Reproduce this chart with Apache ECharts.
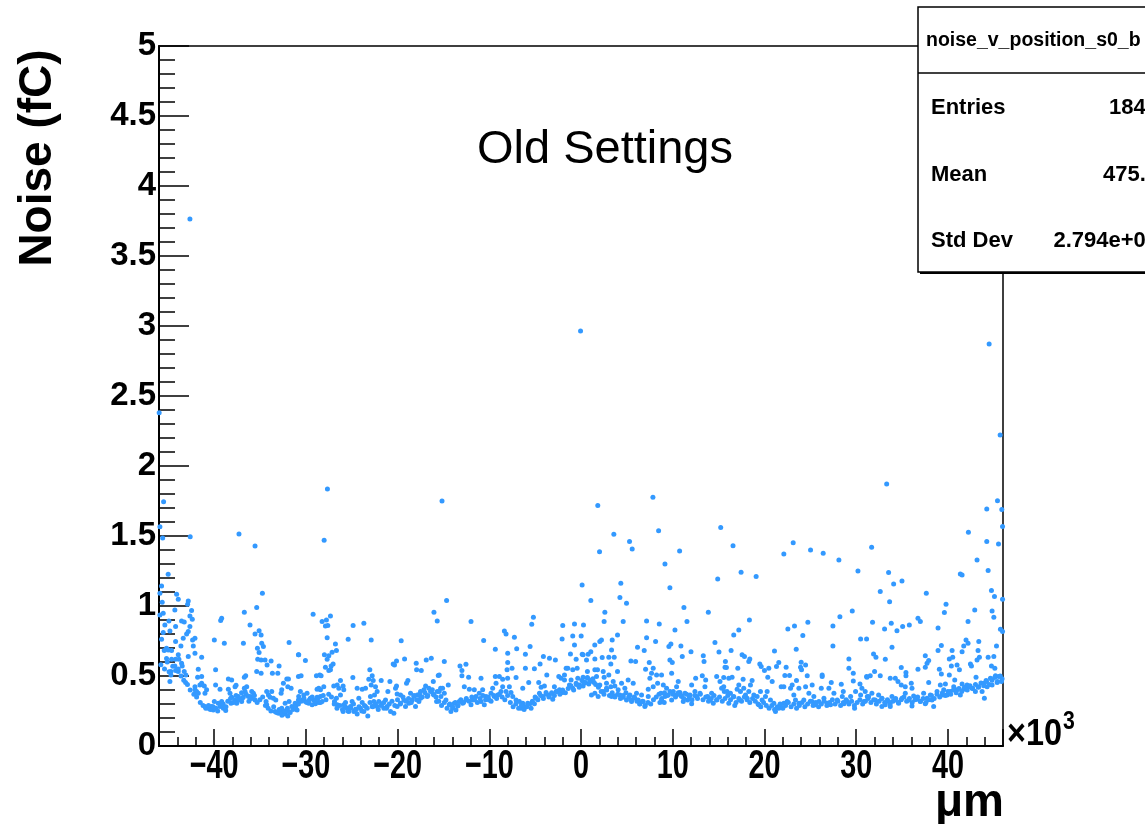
<!DOCTYPE html>
<html>
<head>
<meta charset="utf-8">
<script src="https://cdn.jsdelivr.net/npm/echarts@6/dist/echarts.min.js"></script>
<style>
  html, body { margin: 0; padding: 0; background: #fff; }
  #chart { width: 1145px; height: 824px; }
</style>
</head>
<body>
<div id="chart"></div>
<script>
// Strip noise (fC) against strip position (units of 10^3 um)
const stripsFarLeft = [[-45.0,1.227],[-45.72,1.143],[-45.9,1.091],[-45.65,1.027],[-44.08,1.084],[-43.9,1.048],[-42.81,1.036],[-42.88,1.012],[-44.27,0.972],[-42.45,0.967],[-45.54,0.948],[-45.9,0.936],[-42.63,0.929],[-42.37,0.905],[-44.92,0.893],[-43.54,0.893],[-43.25,0.886],[-45.36,0.865],[-42.63,0.853],[-44.19,0.853],[-42.81,0.817],[-44.81,0.822],[-45.54,0.81],[-42.99,0.8],[-42.08,0.77],[-43.36,0.77],[-45.72,0.762],[-42.34,0.758],[-44.19,0.746],[-39.97,0.758],[-38.88,0.734],[-43.61,0.715],[-42.26,0.715],[-36.8,0.734],[-45.18,0.698],[-45.0,0.686],[-44.63,0.682],[-45.43,0.682],[-42.08,0.663],[-43.9,0.651],[-42.81,0.639],[-41.35,0.634],[-45.18,0.625],[-44.63,0.62],[-43.83,0.62],[-43.54,0.591],[-44.27,0.572],[-43.47,0.572],[-41.72,0.548],[-39.83,0.544],[-44.7,0.532],[-44.19,0.539],[-43.9,0.532],[-43.25,0.532],[-43.07,0.508],[-44.7,0.508],[-44.81,0.46],[-43.1,0.453],[-41.79,0.491],[-41.35,0.496],[-38.44,0.479],[-38.08,0.472],[-36.7,0.491],[-36.55,0.501],[-42.08,0.424],[-41.54,0.436],[-41.35,0.448],[-41.06,0.429],[-41.9,0.389],[-40.81,0.401],[-42.08,0.401],[-41.72,0.377],[-40.99,0.377],[-39.83,0.436],[-39.35,0.405],[-38.44,0.405],[-37.71,0.424],[-37.6,0.434],[-36.7,0.413],[-36.44,0.424],[-36.62,0.389],[-35.89,0.389],[-36.08,0.353],[-35.53,0.329],[-40.99,0.282],[-40.63,0.27],[-40.26,0.282],[-39.97,0.317],[-39.54,0.305],[-39.35,0.282],[-38.99,0.27],[-38.73,0.253],[-39.17,0.317],[-40.08,0.258],[-38.26,0.377],[-38.08,0.348],[-37.71,0.329],[-37.35,0.353],[-36.91,0.341],[-37.53,0.305],[-36.99,0.317],[-38.15,0.305],[-36.26,0.353],[-35.71,0.377],[-39.17,0.912],[-39.28,0.896],[-36.7,0.955],[-35.35,0.989],[-34.73,1.091],[-36.08,0.865],[-35.53,0.8],[-35.09,0.824],[-34.87,0.793],[-34.8,0.734],[-35.27,0.698],[-35.09,0.667],[-34.62,0.71],[-35.24,0.62],[-34.87,0.615],[-34.44,0.615],[-35.35,0.532],[-34.87,0.52],[-33.78,0.608],[-34.22,0.579],[-32.91,0.572],[-33.64,0.52],[-33.05,0.52],[-31.82,0.739],[-30.8,0.651],[-34.26,0.389],[-34.07,0.365],[-33.71,0.389],[-33.89,0.348],[-33.53,0.341],[-34.33,0.317],[-34.26,0.294],[-33.27,0.329],[-32.69,0.377],[-32.44,0.448],[-32.62,0.401],[-32.07,0.479],[-31.89,0.479],[-31.6,0.413],[-31.96,0.424],[-33.35,0.246],[-32.98,0.234],[-32.62,0.246],[-32.25,0.229],[-31.89,0.246],[-31.52,0.282],[-31.16,0.305],[-30.8,0.329],[-31.96,0.215],[-32.62,0.27],[-32.25,0.305],[-31.82,0.317],[-30.8,0.496]];

const stripsLeft = [[-29.2,0.941],[-28.22,0.889],[-27.75,0.9],[-27.31,0.929],[-27.86,0.858],[-27.6,0.86],[-27.67,0.774],[-26.77,0.729],[-26.66,0.682],[-27.13,0.67],[-27.97,0.651],[-27.49,0.644],[-27.67,0.62],[-27.02,0.586],[-27.24,0.572],[-27.31,0.544],[-27.86,0.563],[-27.49,0.539],[-30.77,0.651],[-30.04,0.61],[-30.51,0.501],[-28.84,0.501],[-28.48,0.508],[-28.33,0.501],[-28.04,0.424],[-28.77,0.405],[-28.58,0.413],[-28.4,0.401],[-30.59,0.389],[-30.22,0.365],[-29.86,0.377],[-29.5,0.341],[-29.13,0.329],[-28.77,0.348],[-28.4,0.353],[-28.22,0.317],[-29.68,0.305],[-29.31,0.294],[-28.95,0.301],[-28.58,0.31],[-30.77,0.353],[-30.4,0.329],[-30.04,0.317],[-30.95,0.258],[-26.22,0.467],[-26.58,0.436],[-25.93,0.429],[-26.4,0.413],[-26.95,0.429],[-26.87,0.317],[-26.58,0.294],[-26.66,0.341],[-26.22,0.365],[-25.86,0.401],[-25.86,0.294],[-25.49,0.27],[-25.13,0.282],[-25.67,0.31],[-25.93,0.246],[-25.31,0.246],[-24.76,0.246],[-24.4,0.229],[-24.95,0.317],[-24.22,0.341],[-24.58,0.263],[-24.04,0.27],[-23.67,0.246],[-23.24,0.215],[-23.49,0.282],[-23.85,0.31],[-25.38,0.763],[-24.84,0.86],[-23.67,0.877],[-22.87,0.758],[-24.87,0.489],[-24.4,0.413],[-23.85,0.405],[-23.49,0.413],[-23.02,0.544],[-22.76,0.501],[-23.13,0.477],[-22.65,0.467],[-22.87,0.436],[-22.4,0.424],[-22.22,0.389],[-22.51,0.365],[-21.78,0.467],[-22.95,0.353],[-22.58,0.317],[-22.04,0.317],[-21.67,0.301],[-22.76,0.282],[-22.22,0.282],[-21.49,0.27],[-21.13,0.282],[-20.76,0.246],[-20.4,0.234],[-21.31,0.329],[-21.05,0.389],[-20.83,0.46],[-20.22,0.413],[-20.11,0.429],[-20.04,0.372],[-19.67,0.365],[-19.31,0.329],[-20.04,0.282],[-19.67,0.305],[-19.13,0.282],[-18.76,0.305],[-18.4,0.329],[-18.04,0.282],[-18.22,0.353],[-18.58,0.377],[-17.85,0.365],[-17.49,0.389],[-17.12,0.401],[-16.94,0.429],[-16.58,0.413],[-16.21,0.401],[-16.03,0.365],[-15.67,0.389],[-15.3,0.413],[-16.76,0.353],[-17.49,0.341],[-17.67,0.317],[-15.74,0.317],[-20.47,0.586],[-20.33,0.579],[-20.11,0.608],[-19.6,0.751],[-19.23,0.622],[-18.87,0.467],[-19.02,0.448],[-17.96,0.591],[-17.92,0.544],[-17.41,0.539],[-16.87,0.615],[-16.32,0.627],[-16.03,0.955],[-15.67,0.893],[-15.56,0.503],[-16.1,0.46]];

const stripsCentreLeft = [[-14.65,1.039],[-11.99,0.889],[-10.61,0.753],[-14.9,0.603],[-13.19,0.572],[-12.54,0.584],[-12.98,0.539],[-12.98,0.501],[-12.25,0.491],[-10.9,0.484],[-15.45,0.508],[-14.47,0.436],[-15.09,0.413],[-15.45,0.389],[-14.9,0.377],[-15.27,0.353],[-14.72,0.329],[-14.36,0.294],[-13.99,0.27],[-14.18,0.246],[-13.63,0.258],[-13.81,0.305],[-13.45,0.286],[-13.27,0.317],[-12.9,0.305],[-12.54,0.329],[-12.72,0.424],[-12.17,0.405],[-11.99,0.294],[-11.81,0.329],[-11.63,0.401],[-11.45,0.353],[-11.09,0.377],[-10.9,0.317],[-10.72,0.401],[-10.54,0.294],[-10.36,0.353],[-10.0,0.329],[-9.63,0.413],[-9.45,0.353],[-9.81,0.377],[-9.26,0.448],[-9.08,0.365],[-8.72,0.389],[-8.54,0.424],[-8.17,0.389],[-7.81,0.424],[-7.63,0.382],[-9.34,0.496],[-8.9,0.496],[-8.54,0.477],[-8.0,0.484],[-9.34,0.691],[-8.35,0.822],[-8.17,0.8],[-7.99,0.663],[-7.99,0.596],[-8.06,0.544],[-7.52,0.555],[-7.26,0.777],[-7.01,0.694],[-7.08,0.489],[-7.44,0.353],[-7.08,0.329],[-6.72,0.317],[-6.53,0.27],[-6.17,0.282],[-6.35,0.305],[-5.81,0.305],[-5.44,0.27],[-5.08,0.301],[-4.9,0.341],[-6.35,0.413],[-6.06,0.655],[-6.06,0.555],[-5.55,0.71],[-5.7,0.453],[-5.37,0.87],[-5.19,0.92],[-5.08,0.551],[-4.61,0.453],[-4.35,0.42],[-4.53,0.377],[-4.17,0.353],[-3.81,0.382],[-3.44,0.365],[-3.08,0.334],[-2.71,0.389],[-2.35,0.401],[-1.99,0.382],[-2.9,0.424],[-3.99,0.429],[-4.46,0.586],[-4.1,0.639],[-3.73,0.508],[-3.44,0.627],[-2.79,0.615],[-2.42,0.496],[-2.17,0.484],[-1.8,0.472],[-1.62,0.555],[-1.44,0.555],[-1.8,0.508],[-2.06,0.765],[-1.99,0.86],[-1.15,0.658],[-0.9,0.786],[-0.71,0.722],[-0.71,0.872],[-0.53,0.62],[-0.42,0.555],[-0.9,0.544],[0.02,0.786],[0.13,0.655],[0.27,0.865],[-1.26,0.436],[-0.9,0.413],[-0.53,0.448],[-0.17,0.436],[0.2,0.46],[-1.08,0.472],[-0.35,0.484]];

const stripsCentreRight = [[0.12,1.15],[9.15,1.3],[14.9,1.193],[4.34,1.162],[4.24,1.06],[4.96,1.02],[1.07,1.039],[2.6,0.955],[2.52,0.889],[4.6,0.889],[9.69,1.131],[11.22,0.989],[11.55,0.889],[13.88,0.955],[7.15,0.893],[8.53,0.872],[10.24,0.829],[3.98,0.793],[7.15,0.774],[3.4,0.758],[2.23,0.758],[2.05,0.746],[1.5,0.722],[8.13,0.746],[9.8,0.729],[9.58,0.71],[10.89,0.715],[14.6,0.739],[6.16,0.705],[6.89,0.682],[3.33,0.686],[1.07,0.674],[0.78,0.655],[0.23,0.651],[0.6,0.615],[11.99,0.674],[15.04,0.672],[13.33,0.644],[11.04,0.639],[1.51,0.622],[2.31,0.632],[3.03,0.634],[3.62,0.634],[5.44,0.608],[5.95,0.603],[7.44,0.596],[9.69,0.615],[9.95,0.596],[13.41,0.603],[15.7,0.563],[3.25,0.586],[3.98,0.532],[7.04,0.548],[7.87,0.555],[7.69,0.52],[7.51,0.484],[9.88,0.52],[1.51,0.544],[1.8,0.544],[2.42,0.532],[0.7,0.532],[0.23,0.491],[0.7,0.484],[1.14,0.472],[1.69,0.496],[2.52,0.491],[3.03,0.508],[0.49,0.453],[0.85,0.443],[1.43,0.453],[2.05,0.436],[2.78,0.448],[3.51,0.46],[3.69,0.429],[0.23,0.429],[3.25,0.424],[2.42,0.389],[1.51,0.377],[1.14,0.365],[1.87,0.353],[2.78,0.413],[4.42,0.448],[5.14,0.472],[5.69,0.448],[4.05,0.401],[4.78,0.413],[3.33,0.353],[3.69,0.358],[4.24,0.365],[4.6,0.348],[4.96,0.329],[5.33,0.365],[5.51,0.317],[5.87,0.341],[6.24,0.329],[6.42,0.301],[6.78,0.317],[6.96,0.282],[7.33,0.353],[6.05,0.377],[6.6,0.365],[7.33,0.405],[7.87,0.424],[8.24,0.508],[8.35,0.448],[8.78,0.508],[8.97,0.436],[8.71,0.377],[8.78,0.329],[9.15,0.353],[9.33,0.413],[9.51,0.365],[8.6,0.31],[9.07,0.31],[10.06,0.389],[10.42,0.424],[10.6,0.46],[10.42,0.365],[10.78,0.382],[10.97,0.353],[11.33,0.377],[11.62,0.329],[11.88,0.365],[12.06,0.436],[12.42,0.389],[12.6,0.353],[12.97,0.377],[13.22,0.501],[13.59,0.472],[13.51,0.424],[13.8,0.353],[14.06,0.329],[14.42,0.305],[14.79,0.329],[14.24,0.377],[14.79,0.496],[15.15,0.46],[15.33,0.413],[15.62,0.389],[12.5,0.484],[11.15,0.317],[12.06,0.301],[9.88,0.329]];

const stripsRight = [[28.11,1.329],[17.45,1.241],[19.09,1.21],[30.19,1.25],[29.57,0.965],[28.22,0.924],[18.36,0.9],[17.2,0.829],[16.65,0.793],[22.55,0.836],[23.27,0.858],[24.73,0.884],[27.46,0.858],[30.48,0.765],[31.13,0.765],[24.18,0.789],[27.46,0.715],[23.46,0.691],[21.09,0.679],[16.36,0.682],[17.56,0.651],[17.82,0.639],[18.4,0.622],[18.29,0.603],[15.74,0.603],[15.85,0.56],[17.09,0.555],[19.49,0.586],[19.64,0.567],[20.0,0.539],[20.47,0.555],[21.31,0.567],[21.56,0.596],[22.36,0.563],[24.0,0.598],[24.48,0.579],[24.04,0.544],[23.93,0.563],[29.2,0.622],[29.2,0.555],[29.68,0.52],[15.56,0.489],[16.11,0.484],[16.47,0.491],[17.67,0.477],[18.65,0.467],[20.36,0.491],[20.84,0.46],[22.22,0.503],[22.73,0.503],[23.49,0.467],[24.66,0.501],[26.29,0.508],[26.29,0.496],[27.28,0.453],[28.37,0.441],[29.68,0.465],[30.41,0.443],[31.13,0.496],[15.56,0.424],[15.92,0.389],[16.29,0.377],[16.65,0.353],[17.02,0.405],[17.2,0.436],[17.38,0.389],[17.74,0.413],[17.93,0.365],[18.29,0.389],[18.47,0.436],[18.84,0.365],[19.2,0.353],[16.11,0.305],[16.76,0.289],[17.31,0.329],[18.11,0.341],[19.38,0.294],[19.74,0.329],[20.11,0.353],[20.29,0.389],[19.56,0.389],[20.65,0.329],[21.02,0.305],[21.2,0.246],[21.56,0.27],[21.75,0.294],[22.11,0.305],[22.47,0.317],[21.82,0.424],[22.11,0.424],[22.84,0.413],[23.02,0.436],[23.2,0.365],[23.38,0.329],[23.75,0.305],[24.29,0.329],[23.75,0.413],[24.48,0.424],[25.2,0.436],[24.84,0.377],[25.38,0.353],[25.93,0.317],[26.48,0.341],[26.84,0.305],[25.57,0.294],[26.19,0.413],[27.02,0.413],[27.57,0.377],[27.93,0.329],[28.48,0.353],[28.59,0.389],[29.02,0.317],[29.39,0.353],[29.82,0.27],[29.93,0.389],[30.48,0.365],[30.84,0.317],[31.21,0.353],[25.2,0.317],[28.66,0.301],[27.2,0.294]];

const stripsFarRight = [[33.53,1.239],[34.08,1.158],[34.99,1.179],[32.62,1.103],[33.64,1.031],[37.64,1.091],[41.35,1.229],[41.54,1.222],[43.17,1.329],[44.38,1.253],[44.74,1.11],[45.07,1.067],[45.95,1.048],[39.79,1.012],[39.61,0.953],[42.92,0.972],[44.81,0.965],[45.0,0.92],[45.72,0.834],[45.95,0.817],[42.19,0.889],[36.73,0.912],[36.99,0.889],[35.79,0.865],[35.06,0.853],[34.44,0.824],[33.82,0.877],[33.09,0.836],[31.78,0.884],[38.92,0.843],[33.9,0.705],[31.89,0.658],[32.15,0.634],[33.17,0.62],[37.53,0.644],[37.9,0.61],[37.72,0.591],[38.92,0.682],[39.28,0.717],[40.45,0.682],[40.15,0.622],[40.52,0.634],[41.54,0.674],[41.72,0.715],[41.97,0.758],[42.19,0.734],[43.36,0.746],[43.28,0.682],[43.43,0.634],[43.17,0.615],[44.38,0.634],[45.29,0.715],[45.0,0.639],[34.91,0.56],[35.42,0.525],[35.42,0.501],[36.73,0.548],[37.53,0.563],[39.06,0.548],[39.28,0.515],[40.15,0.508],[40.37,0.572],[40.99,0.579],[41.25,0.544],[42.45,0.586],[42.56,0.572],[43.06,0.491],[44.74,0.572],[45.11,0.555],[31.17,0.491],[31.53,0.501],[32.0,0.532],[32.62,0.501],[33.71,0.484],[34.26,0.484],[34.55,0.46],[34.91,0.436],[35.35,0.424],[36.0,0.448],[37.9,0.453],[39.72,0.443],[40.74,0.472],[41.54,0.443],[42.26,0.424],[43.9,0.448],[44.16,0.467],[44.63,0.484],[45.18,0.501],[45.54,0.496],[45.83,0.46],[45.36,0.453],[30.62,0.413],[30.98,0.389],[31.35,0.353],[31.71,0.377],[32.08,0.329],[32.44,0.365],[32.8,0.341],[33.17,0.294],[33.53,0.317],[33.9,0.353],[34.26,0.329],[34.62,0.305],[34.99,0.341],[35.35,0.377],[35.71,0.329],[36.08,0.413],[36.26,0.358],[36.62,0.334],[36.99,0.317],[37.35,0.377],[37.72,0.341],[38.08,0.365],[38.44,0.282],[38.26,0.329],[38.81,0.389],[39.17,0.436],[39.54,0.401],[39.9,0.365],[40.26,0.389],[40.63,0.424],[40.99,0.401],[41.35,0.365],[41.72,0.405],[42.08,0.436],[42.63,0.413],[42.99,0.389],[43.36,0.424],[43.72,0.389],[43.97,0.341],[44.27,0.424],[44.81,0.436],[32.8,0.282],[33.71,0.282],[36.08,0.286],[37.53,0.301],[39.35,0.365]];

// Dense core of the noise band, strip by strip
const bandCore = [[-45.8,0.58],[-45.4,0.55],[-45.1,0.6],[-44.9,0.53],[-44.5,0.57],[-44.2,0.62],[-43.9,0.55],[-43.6,0.5],[-43.3,0.47],[-42.9,0.44],[-42.6,0.4],[-42.2,0.37],[-41.9,0.35],[-41.5,0.31],[-41.2,0.29],[-40.9,0.27],[-40.6,0.29],[-40.4,0.26],[-40.1,0.28],[-39.8,0.27],[-39.6,0.25],[-39.3,0.29],[-39.0,0.3],[-38.7,0.28],[-38.5,0.32],[-38.2,0.34],[-37.9,0.31],[-37.6,0.36],[-37.3,0.33],[-37.0,0.38],[-36.8,0.35],[-36.5,0.37],[-36.2,0.32],[-35.9,0.34],[-35.6,0.36],[-35.3,0.31],[-35.0,0.33],[-34.7,0.35],[-34.4,0.29],[-34.1,0.27],[-33.8,0.25],[-33.5,0.28],[-33.2,0.24],[-32.9,0.26],[-32.6,0.22],[-32.3,0.25],[-32.0,0.27],[-31.7,0.24],[-31.4,0.26],[-31.1,0.28],[-30.8,0.3],[-30.5,0.32],[-30.2,0.34],[-29.9,0.31],[-29.6,0.33],[-29.3,0.35],[-29.0,0.32],[-28.7,0.34],[-28.4,0.31],[-28.1,0.36],[-27.8,0.33],[-27.5,0.37],[-27.2,0.35],[-26.9,0.3],[-26.6,0.27],[-26.3,0.29],[-26.0,0.26],[-25.7,0.28],[-25.4,0.25],[-25.1,0.27],[-24.8,0.3],[-24.5,0.26],[-24.2,0.28],[-23.9,0.25],[-23.6,0.29],[-23.3,0.27],[-23.0,0.31],[-22.7,0.28],[-22.4,0.3],[-22.1,0.26],[-21.8,0.29],[-21.5,0.31],[-21.2,0.27],[-20.9,0.3],[-20.6,0.32],[-20.3,0.29],[-20.0,0.33],[-19.7,0.3],[-19.4,0.35],[-19.1,0.32],[-18.8,0.34],[-18.5,0.31],[-18.2,0.36],[-17.9,0.33],[-17.6,0.37],[-17.3,0.35],[-17.0,0.38],[-16.7,0.36],[-16.4,0.39],[-16.1,0.37],[-15.8,0.35],[-15.5,0.32],[-15.2,0.29],[-14.9,0.31],[-14.6,0.27],[-14.3,0.3],[-14.0,0.28],[-13.7,0.31],[-13.4,0.29],[-13.1,0.33],[-12.8,0.31],[-12.5,0.34],[-12.2,0.32],[-11.9,0.35],[-11.6,0.33],[-11.3,0.31],[-11.0,0.34],[-10.7,0.36],[-10.4,0.33],[-10.1,0.35],[-9.8,0.32],[-9.5,0.36],[-9.2,0.34],[-8.9,0.37],[-8.6,0.35],[-8.3,0.33],[-8.0,0.36],[-7.7,0.31],[-7.4,0.28],[-7.1,0.3],[-6.8,0.27],[-6.5,0.29],[-6.2,0.26],[-5.9,0.28],[-5.6,0.3],[-5.3,0.32],[-5.0,0.35],[-4.7,0.33],[-4.4,0.36],[-4.1,0.34],[-3.8,0.37],[-3.5,0.35],[-3.2,0.38],[-2.9,0.36],[-2.6,0.39],[-2.3,0.37],[-2.0,0.4],[-1.7,0.38],[-1.4,0.41],[-1.1,0.43],[-0.8,0.4],[-0.5,0.44],[-0.2,0.42],[0.1,0.47],[0.4,0.45],[0.7,0.49],[1.0,0.46],[1.3,0.48],[1.6,0.44],[1.9,0.42],[2.2,0.39],[2.5,0.37],[2.8,0.4],[3.1,0.36],[3.4,0.38],[3.7,0.35],[4.0,0.37],[4.3,0.34],[4.6,0.36],[4.9,0.38],[5.2,0.35],[5.5,0.33],[5.8,0.35],[6.1,0.32],[6.4,0.3],[6.7,0.32],[7.0,0.29],[7.3,0.31],[7.6,0.3],[7.9,0.33],[8.2,0.35],[8.5,0.37],[8.8,0.34],[9.1,0.38],[9.4,0.36],[9.7,0.39],[10.0,0.37],[10.3,0.35],[10.6,0.38],[10.9,0.36],[11.2,0.34],[11.5,0.37],[11.8,0.35],[12.1,0.33],[12.4,0.36],[12.7,0.34],[13.0,0.37],[13.3,0.33],[13.6,0.35],[13.9,0.32],[14.2,0.34],[14.5,0.36],[14.8,0.33],[15.1,0.35],[15.4,0.32],[15.7,0.34],[16.0,0.36],[16.3,0.33],[16.6,0.35],[16.9,0.31],[17.2,0.34],[17.5,0.32],[17.8,0.35],[18.1,0.33],[18.4,0.31],[18.7,0.34],[19.0,0.32],[19.3,0.3],[19.6,0.28],[19.9,0.31],[20.2,0.29],[20.5,0.27],[20.8,0.29],[21.1,0.26],[21.4,0.28],[21.7,0.3],[22.0,0.27],[22.3,0.29],[22.6,0.31],[22.9,0.28],[23.2,0.3],[23.5,0.27],[23.8,0.29],[24.1,0.31],[24.4,0.28],[24.7,0.3],[25.0,0.32],[25.3,0.29],[25.6,0.31],[25.9,0.28],[26.2,0.3],[26.5,0.32],[26.8,0.29],[27.1,0.31],[27.4,0.33],[27.7,0.3],[28.0,0.32],[28.3,0.29],[28.6,0.31],[28.9,0.33],[29.2,0.3],[29.5,0.32],[29.8,0.29],[30.1,0.31],[30.4,0.33],[30.7,0.3],[31.0,0.32],[31.3,0.34],[31.6,0.31],[31.9,0.33],[32.2,0.3],[32.5,0.32],[32.8,0.34],[33.1,0.31],[33.4,0.33],[33.7,0.3],[34.0,0.32],[34.3,0.34],[34.6,0.31],[34.9,0.33],[35.2,0.35],[35.5,0.32],[35.8,0.34],[36.1,0.31],[36.4,0.33],[36.7,0.35],[37.0,0.32],[37.3,0.34],[37.6,0.31],[37.9,0.33],[38.2,0.36],[38.5,0.34],[38.8,0.37],[39.1,0.35],[39.4,0.38],[39.7,0.36],[40.0,0.39],[40.3,0.37],[40.6,0.4],[40.9,0.38],[41.2,0.41],[41.5,0.39],[41.8,0.42],[42.1,0.4],[42.4,0.43],[42.7,0.41],[43.0,0.44],[43.3,0.42],[43.6,0.45],[43.9,0.43],[44.2,0.46],[44.5,0.44],[44.8,0.47],[45.1,0.49],[45.4,0.46],[45.7,0.5],[45.9,0.48]];

// Isolated high-noise strips
const noisyStrips = [[-45.98,2.38],[-42.63,3.764],[-45.5,1.745],[-45.9,1.566],[-45.6,1.485],[-42.6,1.495],[-37.28,1.514],[-35.53,1.428],[-27.64,1.836],[-28.0,1.469],[-15.15,1.75],[-0.05,2.964],[1.83,1.717],[2.02,1.388],[3.58,1.512],[5.29,1.46],[5.58,1.407],[7.84,1.776],[8.46,1.538],[10.75,1.393],[15.23,1.56],[16.57,1.431],[22.11,1.371],[23.13,1.452],[25.02,1.4],[26.4,1.376],[31.68,1.419],[33.32,1.871],[42.23,1.526],[44.23,1.693],[44.23,1.46],[45.4,1.752],[45.51,1.443],[45.87,1.69],[45.95,1.567],[44.49,2.871],[45.69,2.221]];

// Axis tick labels along x (units of 10^3 um)
const xTickLabels = [-40, -30, -20, -10, 0, 10, 20, 30, 40];

const statsName = 'noise_v_position_s0_b';
const statsEntries = '1845';
const statsMean = '475.3';
const statsStdDev = '2.794e+04';

const points = [].concat(stripsFarLeft, stripsLeft, stripsCentreLeft, stripsCentreRight, stripsRight, stripsFarRight, bandCore, noisyStrips);

const FONT = '"Liberation Sans", Arial, Helvetica, sans-serif';

const chart = echarts.init(document.getElementById('chart'), null, { renderer: 'canvas' });

const boxX = 918, boxY = 7, boxW = 260, boxH = 265, headH = 66;

chart.setOption({
  animation: false,
  backgroundColor: '#ffffff',
  grid: {
    left: 159, right: 142, top: 46, bottom: 78,
    show: true, borderColor: '#000', borderWidth: 1.5, backgroundColor: 'transparent'
  },
  xAxis: [
    {
      type: 'value', min: -46, max: 46, interval: 2, position: 'bottom',
      axisLine: { show: true, onZero: false, lineStyle: { color: '#000', width: 2 } },
      axisTick: { show: true, inside: true, length: 9, lineStyle: { color: '#000', width: 1.5 } },
      axisLabel: { show: false },
      splitLine: { show: false }
    },
    {
      type: 'value', min: -46, max: 46, splitNumber: 9, position: 'bottom',
      axisLine: { show: false, onZero: false },
      axisTick: { show: true, inside: true, length: 17, lineStyle: { color: '#000', width: 1.5 } },
      axisLabel: { show: false },
      splitLine: { show: false }
    }
  ],
  yAxis: {
    type: 'value', min: 0, max: 5, interval: 0.5,
    axisLine: { show: true, onZero: false, lineStyle: { color: '#000', width: 2 } },
    axisTick: { show: true, inside: true, length: 30, lineStyle: { color: '#000', width: 1.5 } },
    minorTick: { show: true, splitNumber: 5, length: 16, lineStyle: { color: '#000', width: 1.5 } },
    axisLabel: { color: '#000', fontFamily: FONT, fontWeight: 'bold', fontSize: 33, margin: 3 },
    splitLine: { show: false },
    minorSplitLine: { show: false }
  },
  series: [{
    type: 'scatter',
    xAxisIndex: 0,
    yAxisIndex: 0,
    data: points,
    symbol: 'circle',
    symbolSize: 5,
    itemStyle: { color: '#3399ff', opacity: 1 },
    silent: true
  }]
});

// Narrow bold tick labels placed through the x scale
const tickLabelGraphics = xTickLabels.map(v => ({
  type: 'text',
  x: chart.convertToPixel({ xAxisIndex: 0 }, v),
  y: 767,
  scaleX: 0.72,
  style: {
    text: v < 0 ? '\u2212' + Math.abs(v) : String(v),
    font: 'bold 40px ' + FONT, fill: '#000', align: 'center', verticalAlign: 'middle'
  }
}));

chart.setOption({
  graphic: tickLabelGraphics.concat([
    {
      type: 'text', x: 38, y: 158, rotation: Math.PI / 2,
      style: { text: 'Noise (fC)', font: 'bold 46px ' + FONT, fill: '#000', align: 'center', verticalAlign: 'middle' }
    },
    {
      type: 'text', x: 1004, y: 803,
      style: { text: '\u03bcm', font: 'bold 46px ' + FONT, fill: '#000', align: 'right', verticalAlign: 'middle' }
    },
    {
      type: 'text', x: 1007, y: 735, scaleX: 0.9,
      style: { text: '\u00d710', font: 'bold 36px ' + FONT, fill: '#000', align: 'left', verticalAlign: 'middle' }
    },
    {
      type: 'text', x: 1063, y: 722, scaleX: 0.85,
      style: { text: '3', font: 'bold 25px ' + FONT, fill: '#000', align: 'left', verticalAlign: 'middle' }
    },
    {
      type: 'text', x: 605, y: 150,
      style: { text: 'Old Settings', font: '47px ' + FONT, fill: '#000', align: 'center', verticalAlign: 'middle' }
    },
    {
      type: 'group', z: 100,
      children: [
        { type: 'rect', shape: { x: boxX + 2, y: boxY + 2, width: boxW, height: boxH }, style: { fill: '#000' } },
        { type: 'rect', shape: { x: boxX, y: boxY, width: boxW, height: boxH }, style: { fill: '#fff', stroke: '#000', lineWidth: 1.5 } },
        { type: 'line', shape: { x1: boxX, y1: boxY + headH, x2: boxX + boxW, y2: boxY + headH }, style: { stroke: '#000', lineWidth: 1.5 } },
        { type: 'text', x: 926, y: 41, style: { text: statsName, font: 'bold 19.5px ' + FONT, fill: '#000', align: 'left', verticalAlign: 'middle' } },
        { type: 'text', x: 931, y: 108, style: { text: 'Entries', font: 'bold 22px ' + FONT, fill: '#000', align: 'left', verticalAlign: 'middle' } },
        { type: 'text', x: 1158, y: 108, style: { text: statsEntries, font: 'bold 22px ' + FONT, fill: '#000', align: 'right', verticalAlign: 'middle' } },
        { type: 'text', x: 931, y: 175, style: { text: 'Mean', font: 'bold 22px ' + FONT, fill: '#000', align: 'left', verticalAlign: 'middle' } },
        { type: 'text', x: 1158, y: 175, style: { text: statsMean, font: 'bold 22px ' + FONT, fill: '#000', align: 'right', verticalAlign: 'middle' } },
        { type: 'text', x: 931, y: 241, style: { text: 'Std Dev', font: 'bold 22px ' + FONT, fill: '#000', align: 'left', verticalAlign: 'middle' } },
        { type: 'text', x: 1158, y: 241, style: { text: statsStdDev, font: 'bold 22px ' + FONT, fill: '#000', align: 'right', verticalAlign: 'middle' } }
      ]
    }
  ])
});
</script>
</body>
</html>
